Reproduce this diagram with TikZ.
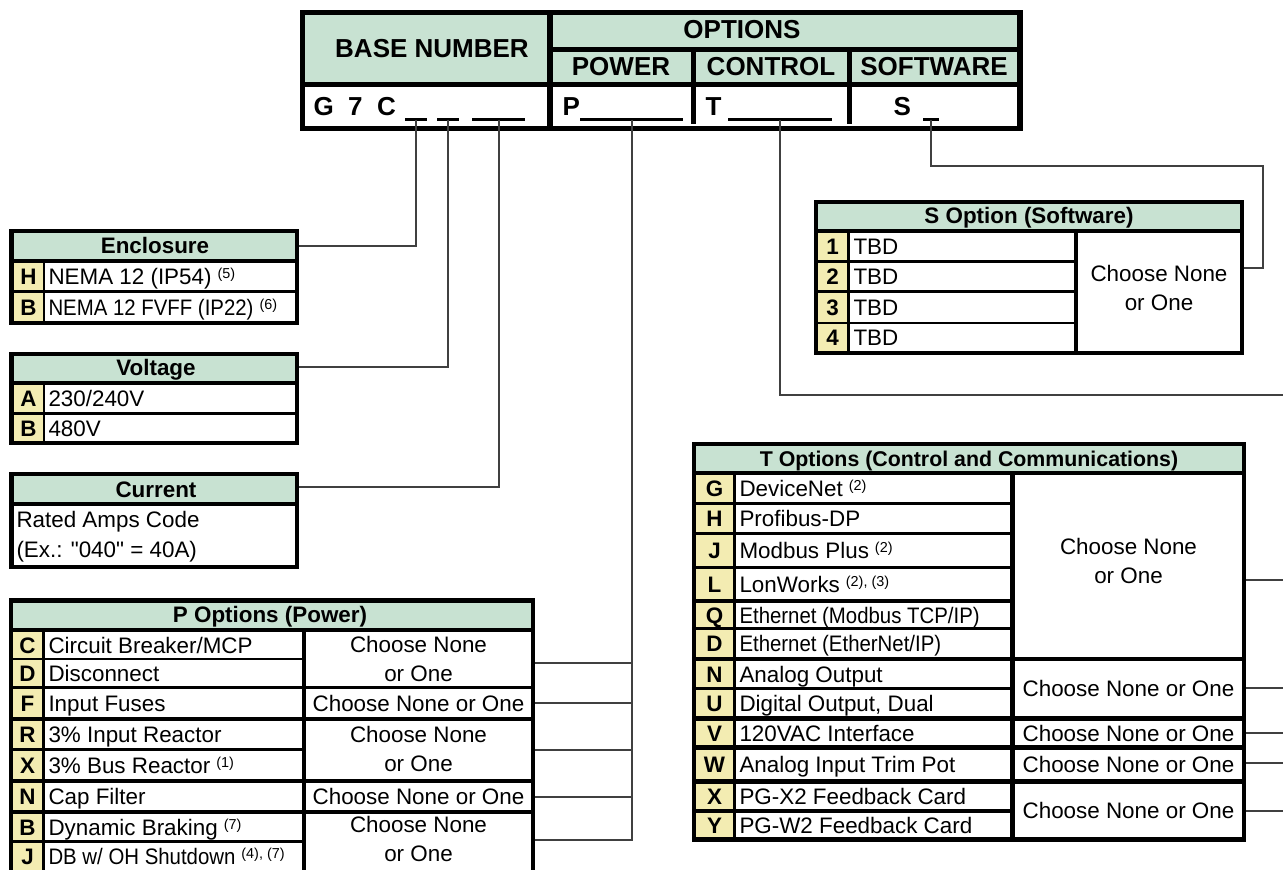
\documentclass[tikz,border=0pt]{standalone}
\usepackage{graphicx}
\usepackage{fontspec}
\setmainfont{Liberation Sans}
\definecolor{hdrgreen}{RGB}{200,226,210}
\definecolor{keyyellow}{RGB}{243,236,178}
\definecolor{linkgray}{RGB}{64,64,64}
\newcommand{\supnote}[1]{\hspace{4.5pt}\raisebox{4.5pt}{\fontsize{10.8}{12}\selectfont #1}}
\newcommand{\narrowrow}[1]{\scalebox{0.91}[1]{#1}}

\tikzset{every picture/.style={line width=0.75pt}}
\tikzset{
  hdrfill/.style={fill=hdrgreen},
  keyfill/.style={fill=keyyellow},
  hdrtext/.style={inner sep=0pt, anchor=base, font=\bfseries\fontsize{19.5}{23}\selectfont},
  ttltext/.style={inner sep=0pt, anchor=base, font=\bfseries\fontsize{16.8}{20}\selectfont},
  rowtext/.style={inner sep=0pt, anchor=base west, font=\fontsize{16.8}{20}\selectfont},
  choicetext/.style={inner sep=0pt, align=center, font=\fontsize{16.8}{21.5}\selectfont},
  link/.style={draw=linkgray, line width=1.5pt},
  uscore/.style={line width=1.9pt},
  cellrule/.style={line width=3.2pt},
}

\begin{document}
\begin{tikzpicture}[x=0.75pt,y=0.75pt,yscale=-1,xscale=1]
	\useasboundingbox (0,0) rectangle (1283,869);
	
	%Shape: Header table
	\fill (300,10) rectangle (1023,131);
	\fill[hdrfill] (305,15) rectangle (547,82);
	\fill[hdrfill] (553,15) rectangle (1017,47);
	\fill[hdrfill] (553,52) rectangle (691,82);
	\fill[hdrfill] (696,52) rectangle (847,82);
	\fill[hdrfill] (852,52) rectangle (1017,82);
	\fill[white] (305,87) rectangle (547,126);
	\fill[white] (553,87) rectangle (1017,126);
	\draw[cellrule] (693.5,87) -- (693.5,124);
	\draw[cellrule] (849.5,87) -- (849.5,124);
	% Text Node
	\node[hdrtext] (baseNo) at (432,57) {BASE NUMBER};
	\node[hdrtext] (options) at (742,38.5) {OPTIONS};
	\node[hdrtext] (power) at (621,75) {POWER};
	\node[hdrtext] (control) at (771,75) {CONTROL};
	\node[hdrtext] (software) at (934,75) {SOFTWARE};
	\node[hdrtext, anchor=base west] (gCode) at (313,115) {G\ \ 7\ \ C};
	\node[hdrtext, anchor=base west] (pCode) at (562,115) {P};
	\node[hdrtext, anchor=base west] (tCode) at (705,115) {T};
	\node[hdrtext, anchor=base west] (sCode) at (893,115) {S};
	%Straight Lines: code blanks
	\draw[uscore] (405,119.5) -- (427,119.5) coordinate[midway] (uEnc);
	\draw[uscore] (437,119.5) -- (459,119.5) coordinate[midway] (uVolt);
	\draw[uscore] (472,119.5) -- (525,119.5) coordinate[midway] (uCur);
	\draw[uscore] (580,119.5) -- (683,119.5) coordinate[midway] (uPow);
	\draw[uscore] (728,119.5) -- (832,119.5) coordinate[midway] (uCtl);
	\draw[uscore] (923,119.5) -- (939,119.5) coordinate[midway] (uSw);
	
	%Shape: Enclosure table
	\fill (9,229) rectangle (299,325);
	\fill[hdrfill] (14,233) rectangle (295,259);
	\node[ttltext] (encTitle) at (155,253) {Enclosure};
	\foreach \ya/\yb/\code/\txt in {263/290/H/{NEMA 12 (IP54)\supnote{(5)}}, 293/321/B/{\narrowrow{NEMA 12 FVFF (IP22)}\supnote{(6)}}}{
		\fill[keyfill] (14,\ya) rectangle (43,\yb);
		\fill[white] (45,\ya) rectangle (295,\yb);
		\node[ttltext] (enc\code) at (28.5,{(\ya+\yb)/2+8}) {\code};
		\node[rowtext] (enc\code txt) at (48,{(\ya+\yb)/2+8}) {\txt};
	}
	\coordinate (encIn) at (299,245.5);
	
	%Shape: Voltage table
	\fill (9,352) rectangle (299,445);
	\fill[hdrfill] (14,356) rectangle (295,381);
	\node[ttltext] (voltTitle) at (156,375) {Voltage};
	\foreach \ya/\yb/\code/\txt in {385/412/A/{230/240V}, 415/441/B/{480V}}{
		\fill[keyfill] (14,\ya) rectangle (43,\yb);
		\fill[white] (45,\ya) rectangle (295,\yb);
		\node[ttltext] (volt\code) at (28.5,{(\ya+\yb)/2+8}) {\code};
		\node[rowtext] (volt\code txt) at (48,{(\ya+\yb)/2+8}) {\txt};
	}
	\coordinate (voltIn) at (299,367);
	
	%Shape: Current table
	\fill (9,472) rectangle (299,569);
	\fill[hdrfill] (14,476) rectangle (295,502);
	\node[ttltext] (curTitle) at (156,497) {Current};
	\fill[white] (14,506) rectangle (295,565);
	\node[rowtext] (curCode) at (16,527) {Rated Amps Code};
	\node[rowtext] (curEx) at (16,557) {(Ex.: \textquotedbl 040\textquotedbl{} = 40A)};
	\coordinate (curIn) at (299,487);
	
	%Shape: P options table
	\fill (9,598) rectangle (535,880);
	\fill[hdrfill] (13,603) rectangle (531,628);
	\node[ttltext] (pTitle) at (270,622) {P Options (Power)};
	\foreach \ya/\yb/\code/\txt in {632/658/C/{Circuit Breaker/MCP}, 660/686/D/{Disconnect}, 689/717/F/{Input Fuses}, 721/748/R/{3\% Input Reactor}, 751/779/X/{3\% Bus Reactor\supnote{(1)}}, 783/810/N/{Cap Filter}, 814/840/B/{Dynamic Braking\supnote{(7)}}, 843/870/J/{\narrowrow{DB w/ OH Shutdown}\supnote{(4), (7)}}}{
		\fill[keyfill] (13,\ya) rectangle (42,\yb);
		\fill[white] (45,\ya) rectangle (302,\yb);
		\node[ttltext] (p\code) at (27.5,{(\ya+\yb)/2+8}) {\code};
		\node[rowtext] (p\code txt) at (48,{(\ya+\yb)/2+8}) {\txt};
	}
	\foreach \ya/\yb/\yc/\yl/\nm/\txt in {632/686/659/663/CD/{Choose None\\or One}, 689/717/703/703/F/{Choose None or One}, 721/779/749/750/RX/{Choose None\\or One}, 783/810/796.5/797/N/{Choose None or One}, 814/880/839/840/BJ/{Choose None\\or One}}{
		\fill[white] (306,\ya) rectangle (531,\yb);
		\node[choicetext] (pSel\nm) at (418.5,\yc) {\txt};
		\coordinate (pIn\nm) at (535,\yl);
	}
	
	%Shape: S option table
	\fill (814,200) rectangle (1244,355);
	\fill[hdrfill] (818,204) rectangle (1240,229);
	\node[ttltext] (sTitle) at (1029,223) {S Option (Software)};
	\foreach \ya/\yb/\code in {233/260/1, 263/290/2, 293/322/3, 324/351/4}{
		\fill[keyfill] (818,\ya) rectangle (847,\yb);
		\fill[white] (850,\ya) rectangle (1074,\yb);
		\node[ttltext] (s\code) at (832.5,{(\ya+\yb)/2+8}) {\code};
		\node[rowtext] (s\code txt) at (853,{(\ya+\yb)/2+8}) {TBD};
	}
	\fill[white] (1078,233) rectangle (1240,351);
	\node[choicetext] (sSel) at (1159,288) {Choose None\\or One};
	\coordinate (sIn) at (1244,268);
	\coordinate (sBend) at (1263,166);
	
	%Shape: T options table
	\fill (692,442) rectangle (1246,842);
	\fill[hdrfill] (696,446) rectangle (1242,471);
	\node[ttltext, font=\bfseries\fontsize{16}{19}\selectfont] (tTitle) at (969,466) {T Options (Control and Communications)};
	\foreach \ya/\yb/\code/\txt in {475/502/G/{DeviceNet\supnote{(2)}}, 505/532/H/{Profibus-DP}, 535/566/J/{Modbus Plus\supnote{(2)}}, 569/599/L/{LonWorks\supnote{(2), (3)}}, 603/627/Q/{\narrowrow{Ethernet (Modbus TCP/IP)}}, 630/657/D/{\narrowrow{Ethernet (EtherNet/IP)}}, 661/687/N/{Analog Output}, 690/716/U/{Digital Output, Dual}, 721/745/V/{120VAC Interface}, 750/779/W/{Analog Input Trim Pot}, 784/809/X/{PG-X2 Feedback Card}, 813/837/Y/{PG-W2 Feedback Card}}{
		\fill[keyfill] (696,\ya) rectangle (733,\yb);
		\fill[white] (736,\ya) rectangle (1010,\yb);
		\node[ttltext] (t\code) at (714.5,{(\ya+\yb)/2+8}) {\code};
		\node[rowtext] (t\code txt) at (739,{(\ya+\yb)/2+8}) {\txt};
	}
	\foreach \ya/\yb/\yc/\yl/\nm/\txt in {475/657/561/580/GD/{Choose None\\or One}, 661/716/688.5/688/NU/{Choose None or One}, 721/745/733/733/V/{Choose None or One}, 750/779/764.5/763/W/{Choose None or One}, 784/837/810.5/811/XY/{Choose None or One}}{
		\fill[white] (1015,\ya) rectangle (1242,\yb);
		\node[choicetext] (tSel\nm) at (1128.5,\yc) {\txt};
		\coordinate (tIn\nm) at (1246,\yl);
	}
	\coordinate (tTrunk) at (1283,395);
	
	%Straight Lines: connectors
	\draw[link] (uEnc) |- (encIn);
	\draw[link] (uVolt) |- (voltIn);
	\draw[link] (uCur) |- (curIn);
	\draw[link] (uPow) |- (pInBJ);
	\foreach \nm in {CD,F,RX,N} \draw[link] (pIn\nm) -- (pIn\nm -| uPow);
	\draw[link] (uCtl) |- (tTrunk);
	\foreach \nm in {GD,NU,V,W,XY} \draw[link] (tIn\nm) -- (tIn\nm -| tTrunk);
	\draw[link] (uSw) |- (sBend) |- (sIn);
	
\end{tikzpicture}
\end{document}
